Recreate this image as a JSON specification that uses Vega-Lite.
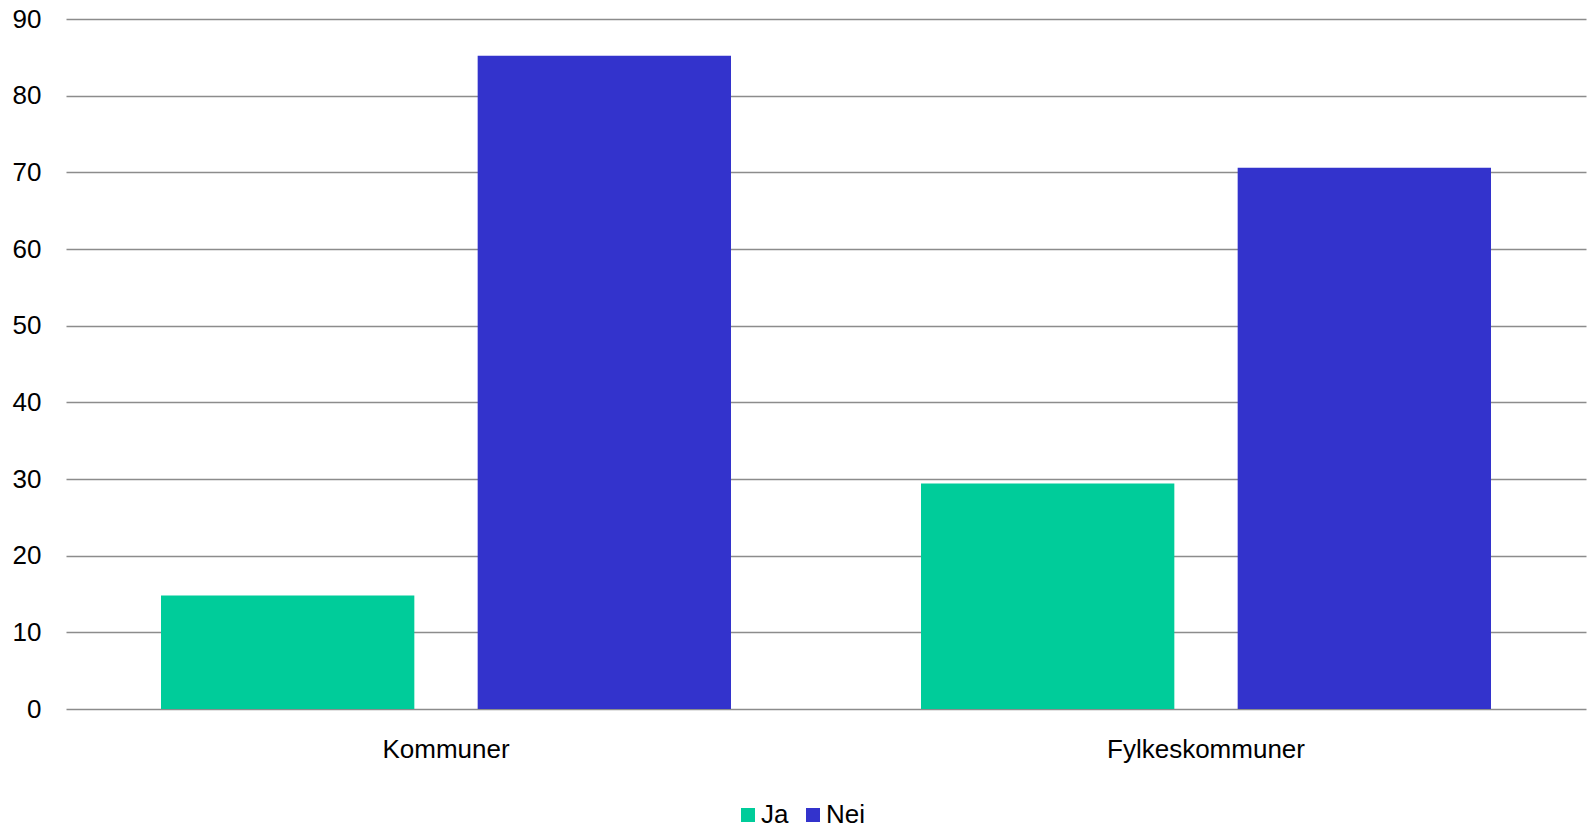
{
  "$schema": "https://vega.github.io/schema/vega-lite/v6.json",
  "autosize": {"type": "none"},
  "width": 1520,
  "height": 690,
  "padding": {"left": 66, "top": 19, "right": 6, "bottom": 119},
  "background": "white",
  "data": {
    "values": [
      {"kategori": "Kommuner", "svar": "Ja", "verdi": 14.8},
      {"kategori": "Kommuner", "svar": "Nei", "verdi": 85.2},
      {"kategori": "Fylkeskommuner", "svar": "Ja", "verdi": 29.4},
      {"kategori": "Fylkeskommuner", "svar": "Nei", "verdi": 70.6}
    ]
  },
  "mark": {"type": "bar"},
  "encoding": {
    "x": {
      "field": "kategori",
      "type": "nominal",
      "sort": ["Kommuner", "Fylkeskommuner"],
      "scale": {"paddingInner": 0.25, "paddingOuter": 0.125},
      "axis": {"title": null, "labelAngle": 0, "ticks": false, "domain": false, "labelPadding": 27, "labelFontSize": 26, "labelColor": "#000000", "labelFont": "Liberation Sans", "labelLimit": 0}
    },
    "xOffset": {
      "field": "svar",
      "type": "nominal",
      "sort": ["Ja", "Nei"],
      "scale": {"paddingInner": 0.2, "paddingOuter": 0}
    },
    "y": {
      "field": "verdi",
      "type": "quantitative",
      "scale": {"domain": [0, 90], "nice": false},
      "axis": {"title": null, "values": [0, 10, 20, 30, 40, 50, 60, 70, 80, 90], "ticks": false, "domain": false, "labelPadding": 25, "labelFontSize": 26, "labelColor": "#000000", "labelFont": "Liberation Sans", "gridColor": "#8c8c8c", "gridWidth": 1.5, "gridOpacity": 1}
    },
    "color": {
      "field": "svar",
      "type": "nominal",
      "sort": ["Ja", "Nei"],
      "scale": {"domain": ["Ja", "Nei"], "range": ["#00CC9A", "#3333CC"]},
      "legend": {
        "title": null,
        "orient": "none",
        "direction": "horizontal",
        "legendX": 669,
        "legendY": 783,
        "symbolType": "square",
        "symbolSize": 196,
        "symbolStrokeWidth": 0,
        "symbolOpacity": 1,
        "labelFontSize": 26,
        "labelFont": "Liberation Sans",
        "labelColor": "#000000",
        "labelOffset": 0,
        "columnPadding": 11
      }
    }
  },
  "config": {"view": {"stroke": null}}
}
